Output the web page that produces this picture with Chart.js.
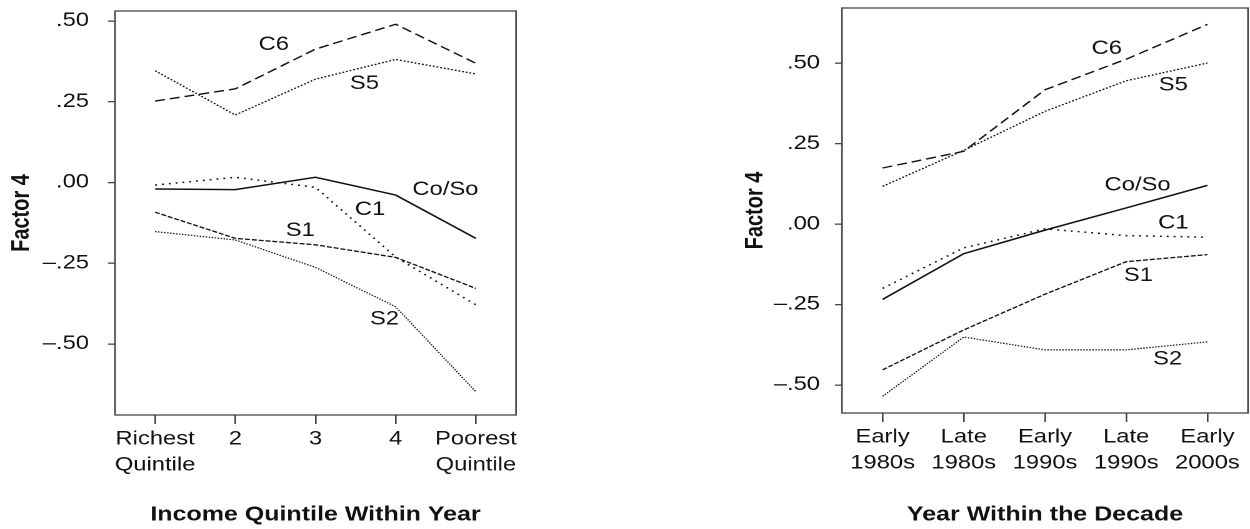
<!DOCTYPE html>
<html lang="en">
<head>
  <meta charset="UTF-8" />
  <title>Factor 4 by income quintile and decade</title>
  <script src="https://cdn.jsdelivr.net/npm/chart.js"></script>
  <style>
    html, body { margin: 0; padding: 0; background: #fff; }
    body { width: 1250px; height: 529px; position: relative; overflow: hidden; }
    /* the source figure is stretched sideways, so each chart is drawn narrow and widened */
    .wrap { position: absolute; top: 0; height: 529px; transform: scaleX(1.25); transform-origin: 0 0; }
  </style>
</head>
<body>
<div class="wrap" style="left:0; width:500px;"><canvas id="incomeChart" width="500" height="529"></canvas></div>
<div class="wrap" style="left:740px; width:408px;"><canvas id="decadeChart" width="408" height="529"></canvas></div>

<script>
  // left panel: income quintile within year
  const quintiles = [["Richest", "Quintile"], "2", "3", "4", ["Poorest", "Quintile"]];
  const incC6   = [0.252, 0.290, 0.413, 0.490, 0.369];
  const incS5   = [0.346, 0.209, 0.320, 0.381, 0.336];
  const incCoSo = [-0.020, -0.022, 0.016, -0.039, -0.173];
  const incC1   = [-0.008, 0.016, -0.015, -0.231, -0.379];
  const incS1   = [-0.092, -0.173, -0.193, -0.232, -0.328];
  const incS2   = [-0.152, -0.178, -0.263, -0.385, -0.648];

  // right panel: year within the decade
  const periods = [["Early", "1980s"], ["Late", "1980s"], ["Early", "1990s"], ["Late", "1990s"], ["Early", "2000s"]];
  const decC6   = [0.174, 0.226, 0.417, 0.512, 0.620];
  const decS5   = [0.117, 0.229, 0.350, 0.445, 0.500];
  const decCoSo = [-0.234, -0.092, -0.019, 0.050, 0.120];
  const decC1   = [-0.200, -0.074, -0.015, -0.036, -0.041];
  const decS1   = [-0.453, -0.329, -0.218, -0.117, -0.095];
  const decS2   = [-0.535, -0.351, -0.391, -0.391, -0.366];

  const yTicks = [-0.5, -0.25, 0, 0.25, 0.5];

  const FONT = '"Liberation Sans", Arial, Helvetica, sans-serif';
  const INK = "#111";
  const FRAME = "#444";

  // line look for each series name
  const styles = {
    "C6":    { borderDash: [8, 4], borderWidth: 1.4 },
    "S5":    { borderDash: [1.5, 1.5], borderWidth: 1.3 },
    "Co/So": { borderDash: [], borderWidth: 1.5 },
    "C1":    { borderDash: [1.5, 4], borderWidth: 1.5 },
    "S1":    { borderDash: [4, 1.5], borderWidth: 1.3 },
    "S2":    { borderDash: [1.2, 1.2], borderWidth: 1.2 },
  };

  function tickText(v) {
    if (v === 0) return ".00";
    return (v < 0 ? "\u2013" : "") + Math.abs(v).toFixed(2).replace(/^0/, "");
  }

  // frame round the plot area and the series names written on it
  const framePlugin = {
    id: "frame",
    afterDatasetsDraw(chart, args, opts) {
      const { ctx, chartArea: a, scales } = chart;
      ctx.save();
      ctx.strokeStyle = FRAME;
      ctx.lineWidth = 1.3;
      ctx.strokeRect(a.left, a.top, a.right - a.left, a.bottom - a.top);
      ctx.fillStyle = INK;
      ctx.font = "19px " + FONT;
      ctx.textAlign = "center";
      ctx.textBaseline = "middle";
      opts.names.forEach((n) => {
        ctx.fillText(n.text, scales.x.getPixelForValue(n.x), scales.y.getPixelForValue(n.y));
      });
      ctx.restore();
    },
  };

  function makeChart(id, cfg) {
    const series = [
      ["C6", cfg.c6], ["S5", cfg.s5], ["Co/So", cfg.coso],
      ["C1", cfg.c1], ["S1", cfg.s1], ["S2", cfg.s2],
    ];
    return new Chart(document.getElementById(id), {
      type: "line",
      data: {
        labels: cfg.labels,
        datasets: series.map(([name, values]) => ({
          label: name,
          data: values,
          borderColor: INK,
          borderDash: styles[name].borderDash,
          borderWidth: styles[name].borderWidth,
          pointRadius: 0,
          tension: 0,
          fill: false,
        })),
      },
      options: {
        responsive: false,
        animation: false,
        devicePixelRatio: 2,
        layout: { padding: { top: cfg.top, left: 0, right: cfg.right, bottom: 1 } },
        plugins: {
          legend: { display: false },
          tooltip: { enabled: false },
          frame: { names: cfg.names },
        },
        scales: {
          x: {
            offset: true,
            afterFit: (s) => { s.height = 529 - cfg.bottom - 1; s.paddingLeft = 0; s.paddingRight = 0; },
            ticks: {
              color: INK, padding: 2, maxRotation: 0, autoSkip: false,
              font: { family: FONT, size: 19, lineHeight: 1.38 },
            },
            grid: { drawOnChartArea: false, offset: false, tickLength: 9, color: FRAME, lineWidth: 1.3 },
            border: { display: false },
            title: {
              display: true, text: cfg.xTitle, color: INK,
              font: { family: FONT, size: 20, weight: "bold" },
              padding: { top: 0, bottom: 1 },
            },
          },
          y: {
            min: cfg.yMin,
            max: cfg.yMax,
            afterBuildTicks: (s) => { s.ticks = yTicks.map((v) => ({ value: v })); },
            afterFit: (s) => { s.width = cfg.yWidth; s.paddingTop = 0; s.paddingBottom = 0; },
            ticks: {
              color: INK, padding: cfg.yPad, callback: (v) => tickText(v),
              font: { family: FONT, size: 19 },
            },
            grid: { drawOnChartArea: false, tickLength: 5.6, color: FRAME, lineWidth: 1.3 },
            border: { display: false },
            title: {
              display: true, text: "Factor 4", color: INK,
              font: { family: FONT, size: 20, weight: "bold" },
              padding: { top: cfg.titlePad, bottom: 0 },
            },
          },
        },
      },
      plugins: [framePlugin],
    });
  }

  makeChart("incomeChart", {
    labels: quintiles,
    c6: incC6, s5: incS5, coso: incCoSo, c1: incC1, s1: incS1, s2: incS2,
    xTitle: "Income Quintile Within Year",
    yMin: -0.72, yMax: 0.531,
    top: 11, bottom: 415, right: 87.2,
    yWidth: 92, yPad: 15.2, titlePad: 5.6,
    names: [
      { text: "C6", x: 1.48, y: 0.426 },
      { text: "S5", x: 2.61, y: 0.305 },
      { text: "Co/So", x: 3.62, y: -0.023 },
      { text: "C1", x: 2.68, y: -0.085 },
      { text: "S1", x: 1.81, y: -0.15 },
      { text: "S2", x: 2.86, y: -0.423 },
    ],
  });

  makeChart("decadeChart", {
    labels: periods,
    c6: decC6, s5: decS5, coso: decCoSo, c1: decC1, s1: decS1, s2: decS2,
    xTitle: "Year Within the Decade",
    yMin: -0.587, yMax: 0.671,
    top: 8, bottom: 413, right: 1.6,
    yWidth: 81.6, yPad: 12, titlePad: 0.6,
    names: [
      { text: "C6", x: 2.76, y: 0.544 },
      { text: "S5", x: 3.58, y: 0.431 },
      { text: "Co/So", x: 3.14, y: 0.121 },
      { text: "C1", x: 3.58, y: 0.003 },
      { text: "S1", x: 3.15, y: -0.161 },
      { text: "S2", x: 3.51, y: -0.42 },
    ],
  });
</script>
</body>
</html>
